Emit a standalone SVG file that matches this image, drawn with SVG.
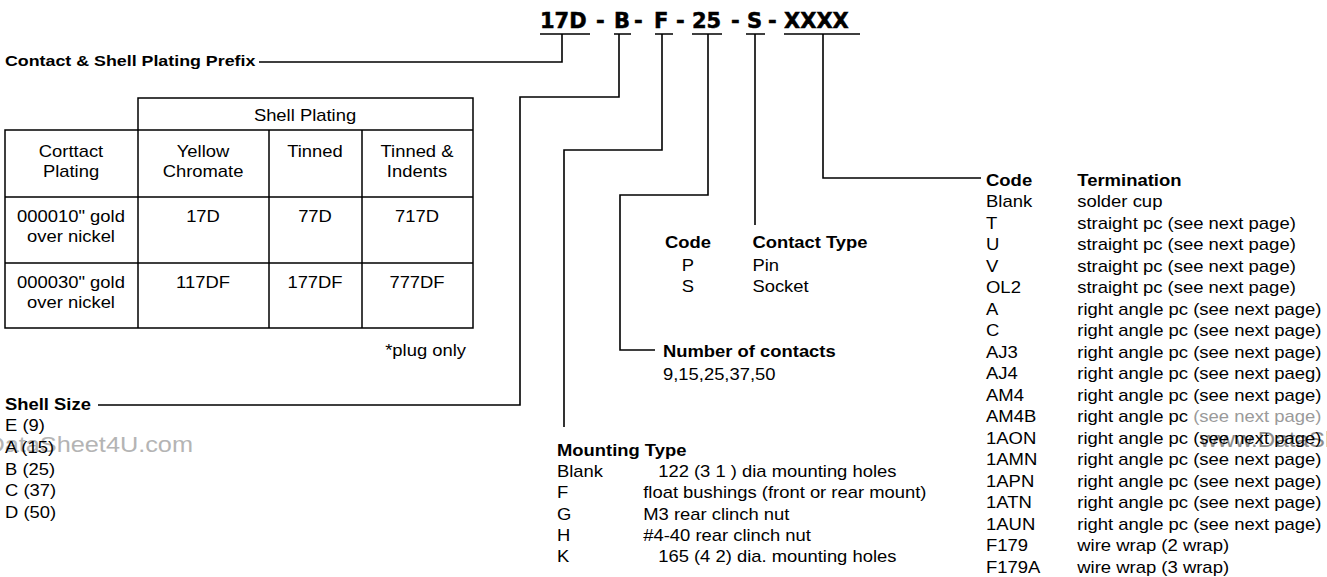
<svg xmlns="http://www.w3.org/2000/svg" width="1327" height="577" viewBox="0 0 1327 577">
<style>
text{font-family:"Liberation Sans",Arial,sans-serif;font-size:16px;fill:#000}
.b{font-weight:bold}
.m{text-anchor:middle}
.e{text-anchor:end}
.t{font-family:"DejaVu Sans",sans-serif;font-weight:bold;font-size:21px;stroke:#000;stroke-width:0.5}
.ln{stroke:#000;stroke-width:1.6;fill:none}
.tb{stroke:#000;stroke-width:1.5;fill:none}
.wm{fill:#b4b4b4;font-size:22px}
.g{fill:#9a9a9a}
</style>
<rect width="1327" height="577" fill="#fff"/>
<g id="watermarks">
<text class="wm e" transform="translate(193 452) scale(1.15 1)">DataSheet4U.com</text>
<text class="wm" transform="translate(1200 447) scale(1.1 1)" style="fill:#8c8c8c">www.DataSheet4U.com</text>
</g>
<g id="title">
<text class="t" y="28"><tspan x="540">17D</tspan><tspan x="596">-</tspan><tspan x="614">B</tspan><tspan x="634">-</tspan><tspan x="654">F</tspan><tspan x="676">-</tspan><tspan x="692">25</tspan><tspan x="731">-</tspan><tspan x="747">S</tspan><tspan x="768">-</tspan><tspan x="784">XXXX</tspan></text>
</g>
<g id="connectors" class="ln">
<path d="M540 34H590M614 34H631M655 34H673M692 34H722M746 34H765M784 34H860"/>
<path d="M562 34V62H259"/>
<path d="M619 34V97H520V405H98"/>
<path d="M662 34V150H564V427"/>
<path d="M708 34V195H620V350H655"/>
<path d="M755 34V225"/>
<path d="M823 34V178H981"/>
</g>
<g id="prefix">
<text class="b" transform="translate(5 66) scale(1.15 1)" style="font-size:15.5px">Contact &amp; Shell Plating Prefix</text>
</g>
<g id="plating-table">
<path class="tb" d="M138 130V98H473V328H5V130H473M138 130V328M269 130V328M362 130V328M5 197H473M5 263H473"/>
<g style="font-size:15px">
<text class="m" transform="translate(305 121) scale(1.15 1)">Shell Plating</text>
<text class="m" transform="translate(71 157) scale(1.15 1)">Corttact</text>
<text class="m" transform="translate(71 177) scale(1.15 1)">Plating</text>
<text class="m" transform="translate(203 157) scale(1.15 1)">Yellow</text>
<text class="m" transform="translate(203 177) scale(1.15 1)">Chromate</text>
<text class="m" transform="translate(315 157) scale(1.15 1)">Tinned</text>
<text class="m" transform="translate(417 157) scale(1.15 1)">Tinned &amp;</text>
<text class="m" transform="translate(417 177) scale(1.15 1)">Indents</text>
<text class="m" transform="translate(71 222) scale(1.15 1)">000010" gold</text>
<text class="m" transform="translate(71 242) scale(1.15 1)">over nickel</text>
<text class="m" transform="translate(203 222) scale(1.15 1)">17D</text>
<text class="m" transform="translate(315 222) scale(1.15 1)">77D</text>
<text class="m" transform="translate(417 222) scale(1.15 1)">717D</text>
<text class="m" transform="translate(71 288) scale(1.15 1)">000030" gold</text>
<text class="m" transform="translate(71 308) scale(1.15 1)">over nickel</text>
<text class="m" transform="translate(203 288) scale(1.15 1)">117DF</text>
<text class="m" transform="translate(315 288) scale(1.15 1)">177DF</text>
<text class="m" transform="translate(417 288) scale(1.15 1)">777DF</text>
<text class="e" transform="translate(466 356) scale(1.15 1)">*plug only</text>
</g>
</g>
<g id="shell-size" transform="translate(5 0) scale(1.15 1)">
<text class="b" y="410">Shell Size</text>
<text y="431">E (9)</text>
<text y="453">A (15)</text>
<text y="475">B (25)</text>
<text y="496">C (37)</text>
<text y="518">D (50)</text>
</g>
<g id="contact-type" transform="translate(665 0) scale(1.15 1)">
<text class="b" y="248">Code</text>
<text class="b" x="76" y="248">Contact Type</text>
<text class="m" x="20" y="271">P</text>
<text class="m" x="20" y="292">S</text>
<text x="76" y="271">Pin</text>
<text x="76" y="292">Socket</text>
</g>
<g id="number-of-contacts" transform="translate(663 0) scale(1.15 1)">
<text class="b" y="357">Number of contacts</text>
<text y="380">9,15,25,37,50</text>
</g>
<g id="mounting-type" transform="translate(557 0) scale(1.15 1)">
<text class="b" y="456">Mounting Type</text>
<text y="477">Blank</text>
<text y="498">F</text>
<text y="520">G</text>
<text y="541">H</text>
<text y="562">K</text>
<text x="88" y="477">122 (3 1 ) dia  mounting holes</text>
<text x="75" y="498">float bushings (front or rear mount)</text>
<text x="75" y="520">M3 rear clinch nut</text>
<text x="75" y="541">#4-40 rear clinch nut</text>
<text x="88" y="562">165 (4 2) dia. mounting holes</text>
</g>
<g id="termination" transform="translate(986 0) scale(1.155 1)">
<text class="b" y="186">Code</text>
<text class="b" x="79" y="186">Termination</text>
<text y="207">Blank</text><text x="79" y="207">solder cup</text>
<text y="229">T</text><text x="79" y="229">straight pc (see next page)</text>
<text y="250">U</text><text x="79" y="250">straight pc (see next page)</text>
<text y="272">V</text><text x="79" y="272">straight pc (see next page)</text>
<text y="293">OL2</text><text x="79" y="293">straight pc (see next page)</text>
<text y="315">A</text><text x="79" y="315">right angle pc (see next page)</text>
<text y="336">C</text><text x="79" y="336">right angle pc (see next page)</text>
<text y="358">AJ3</text><text x="79" y="358">right angle pc (see next page)</text>
<text y="379">AJ4</text><text x="79" y="379">right angle pc (see next paeg)</text>
<text y="401">AM4</text><text x="79" y="401">right angle pc (see next page)</text>
<text y="422">AM4B</text><text x="79" y="422">right angle pc <tspan class="g">(see next page)</tspan></text>
<text y="444">1AON</text><text x="79" y="444">right angle pc (see next page)</text>
<text y="465">1AMN</text><text x="79" y="465">right angle pc (see next page)</text>
<text y="487">1APN</text><text x="79" y="487">right angle pc (see next page)</text>
<text y="508">1ATN</text><text x="79" y="508">right angle pc (see next page)</text>
<text y="530">1AUN</text><text x="79" y="530">right angle pc (see next page)</text>
<text y="551">F179</text><text x="79" y="551">wire wrap (2 wrap)</text>
<text y="573">F179A</text><text x="79" y="573">wire wrap (3 wrap)</text>
</g>
</svg>
